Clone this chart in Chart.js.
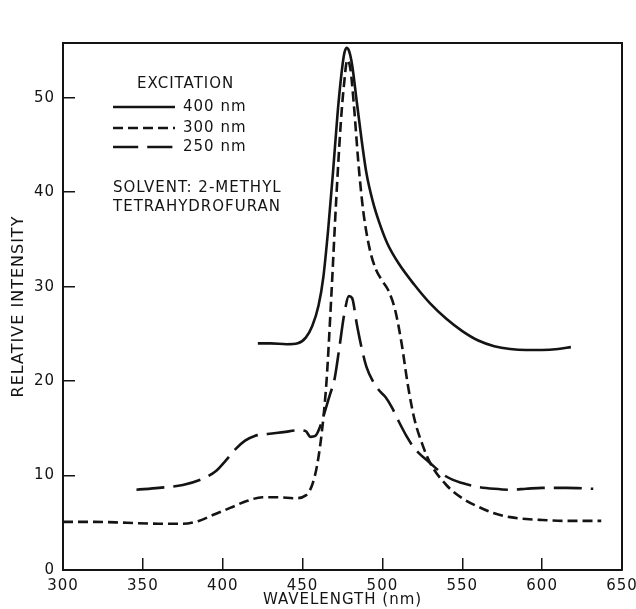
<!DOCTYPE html>
<html><head><meta charset="utf-8">
<script src="https://cdn.jsdelivr.net/npm/chart.js@4.4.1/dist/chart.umd.min.js"></script>
<style>html,body{margin:0;padding:0;background:#fff}</style>
</head><body>
<canvas id="c" width="636" height="609"></canvas>
<script>
// ---- data ----
const seriesLabels = ['400 nm', '300 nm', '250 nm'];
const legendTitle = 'EXCITATION';
const noteLines = ['SOLVENT: 2-METHYL', 'TETRAHYDROFURAN'];
const xTitle = 'WAVELENGTH (nm)';
const yTitle = 'RELATIVE INTENSITY';
const xTicks = [300, 350, 400, 450, 500, 550, 600, 650];
const yTicks = [0, 10, 20, 30, 40, 50];

const ex400Wavelength = [422, 430, 440, 447, 452, 456, 460, 463, 466, 469, 472, 474, 476, 477.5, 479, 481, 484, 487, 490, 494, 498, 503, 510, 520, 530, 540, 550, 560, 570, 580, 590, 600, 610, 618];
const ex400Intensity  = [24.0, 24.0, 23.9, 24.0, 24.6, 25.8, 28.0, 31.0, 36.0, 42.0, 48.5, 52.0, 54.6, 55.3, 55.0, 53.5, 49.5, 45.5, 42.0, 39.0, 36.8, 34.6, 32.5, 30.2, 28.2, 26.6, 25.3, 24.3, 23.7, 23.4, 23.3, 23.3, 23.4, 23.6];

const ex300Wavelength = [300, 320, 340, 360, 375, 385, 395, 405, 415, 425, 435, 445, 452, 456, 459, 462, 465, 468, 471, 474, 476, 478, 480, 482, 485, 488, 492, 496, 500, 504, 508, 512, 516, 520, 525, 530, 540, 550, 560, 570, 580, 590, 600, 615, 637];
const ex300Intensity  = [5.1, 5.1, 5.0, 4.9, 4.9, 5.2, 5.9, 6.6, 7.3, 7.7, 7.7, 7.6, 7.9, 9.0, 11.0, 14.5, 20.0, 29.0, 39.0, 47.5, 51.5, 54.0, 53.0, 49.5, 43.0, 38.0, 34.0, 31.8, 30.6, 29.5, 27.5, 24.0, 19.5, 16.0, 13.3, 11.3, 9.0, 7.6, 6.7, 6.0, 5.6, 5.4, 5.3, 5.2, 5.2];

const ex250Wavelength = [346, 360, 375, 388, 396, 402, 408, 414, 420, 428, 438, 448, 452, 455, 458, 461, 464, 467, 470, 473, 476, 479, 481, 484, 487, 490, 494, 498, 502, 506, 510, 515, 520, 530, 540, 550, 560, 570, 580, 590, 600, 615, 632];
const ex250Intensity  = [8.5, 8.7, 9.0, 9.7, 10.5, 11.6, 12.8, 13.7, 14.2, 14.4, 14.6, 14.8, 14.7, 14.1, 14.2, 15.2, 16.8, 18.5, 20.2, 23.5, 27.0, 29.0, 28.8, 26.0, 23.5, 21.5, 20.0, 19.0, 18.3, 17.2, 15.8, 14.2, 12.9, 11.3, 9.9, 9.2, 8.8, 8.6, 8.5, 8.6, 8.7, 8.7, 8.6];

const xMin = 300, xMax = 650, yMin = 0, yMax = 55.8;

// ---- build chart ----
const INK = '#141414';
const FONT = '"DejaVu Sans", sans-serif';
const styles = [
  { dash: [] },
  { dash: [10, 5] },
  { dash: [28, 9] }
];
const toPts = (xs, ys) => xs.map((x, i) => ({ x, y: ys[i] }));
const seriesData = [
  toPts(ex400Wavelength, ex400Intensity),
  toPts(ex300Wavelength, ex300Intensity),
  toPts(ex250Wavelength, ex250Intensity)
];

const datasets = seriesData.map((d, i) => ({
  label: seriesLabels[i],
  data: d,
  borderColor: INK,
  borderWidth: 2.6,
  borderDash: styles[i].dash,
  pointRadius: 0,
  fill: false,
  cubicInterpolationMode: 'monotone',
  tension: 0.4
}));

const spacing = {
  id: 'spacing',
  beforeInit(chart) { chart.ctx.letterSpacing = '1px'; },
  beforeDraw(chart) { chart.ctx.letterSpacing = '1px'; }
};

const overlay = {
  id: 'overlay',
  afterDatasetsDraw(chart) {
    const { ctx, chartArea: a } = chart;
    ctx.save();
    ctx.strokeStyle = INK;
    ctx.lineWidth = 2;
    ctx.setLineDash([]);
    ctx.beginPath();
    ctx.moveTo(a.left, a.top);
    ctx.lineTo(a.right, a.top);
    ctx.lineTo(a.right, a.bottom);
    ctx.stroke();

    // legend
    const lx = a.left + 50;
    ctx.fillStyle = INK;
    ctx.letterSpacing = '1px';
    ctx.font = '15px ' + FONT;
    ctx.textBaseline = 'middle';
    ctx.textAlign = 'left';
    ctx.fillText(legendTitle, lx + 24, 84);
    const rows = [107, 128, 147];
    datasets.forEach((ds, i) => {
      ctx.beginPath();
      ctx.setLineDash(styles[i].dash.length ? [styles[i].dash[0] * (i === 2 ? 0.9 : 1), styles[i].dash[1]] : []);
      ctx.lineWidth = 2.6;
      ctx.moveTo(lx, rows[i]);
      ctx.lineTo(lx + 62, rows[i]);
      ctx.stroke();
      ctx.setLineDash([]);
      ctx.fillText(ds.label, lx + 70, rows[i]);
    });
    ctx.fillText(noteLines[0], lx, 188);
    ctx.fillText(noteLines[1], lx, 207);
    ctx.restore();
  }
};

new Chart(document.getElementById('c'), {
  type: 'line',
  data: { datasets },
  options: {
    responsive: false,
    animation: false,
    devicePixelRatio: 1,
    layout: { padding: { top: 43, right: 14, left: 0, bottom: 0 } },
    plugins: { legend: { display: false }, tooltip: { enabled: false } },
    scales: {
      x: {
        type: 'linear',
        min: xMin, max: xMax,
        afterFit(s) { s.height = 39; s.paddingLeft = 0; s.paddingRight = 0; },
        afterBuildTicks(s) { s.ticks = xTicks.map(v => ({ value: v })); },
        border: { display: true, color: INK, width: 2 },
        grid: { drawOnChartArea: false, drawTicks: true, tickLength: -12, color: INK, lineWidth: 1.5 },
        ticks: { padding: 19, color: INK, font: { family: FONT, size: 15 }, maxRotation: 0, autoSkip: false },
        title: { display: true, text: xTitle, color: INK, font: { family: FONT, size: 15 }, padding: { top: 0, bottom: 0 } }
      },
      y: {
        type: 'linear',
        min: yMin, max: yMax,
        afterFit(s) { s.width = 63; s.paddingTop = 0; s.paddingBottom = 0; },
        afterBuildTicks(s) { s.ticks = yTicks.map(v => ({ value: v })); },
        border: { display: true, color: INK, width: 2 },
        grid: { drawOnChartArea: false, drawTicks: true, tickLength: -12, color: INK, lineWidth: 1.5 },
        ticks: { padding: 20, color: INK, font: { family: FONT, size: 15 }, autoSkip: false },
        title: { display: true, text: yTitle, color: INK, font: { family: FONT, size: 16 }, padding: { top: 9, bottom: 0 } }
      }
    }
  },
  plugins: [spacing, overlay]
});
</script>
</body></html>
